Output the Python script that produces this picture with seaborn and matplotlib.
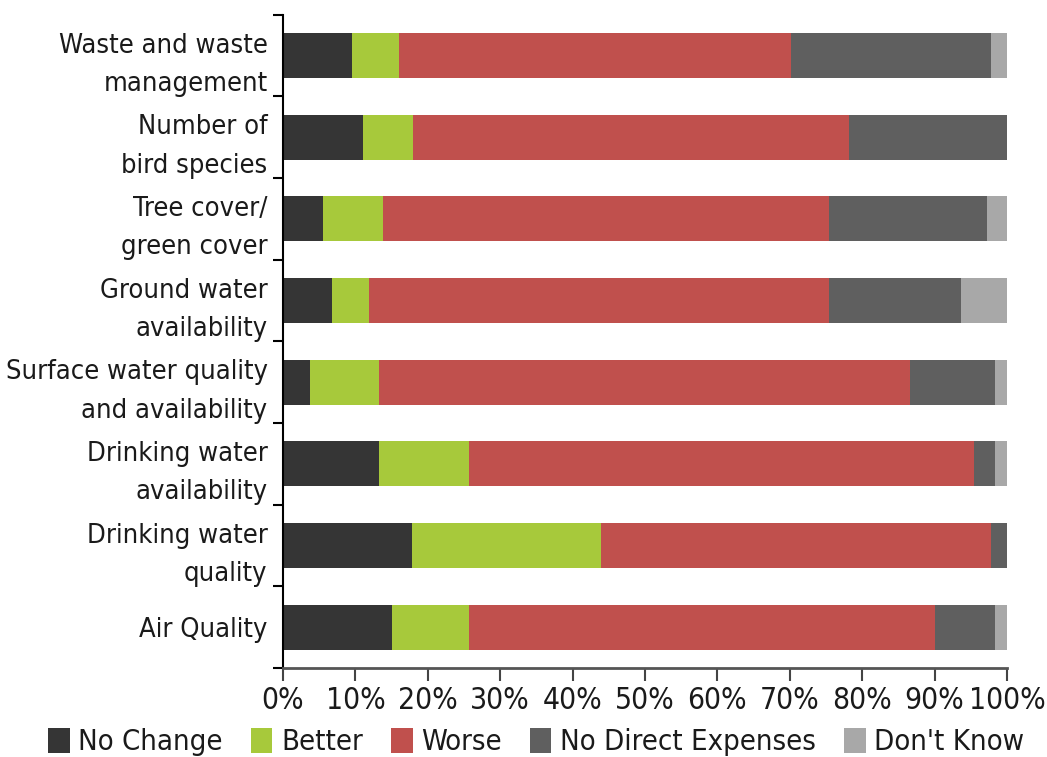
import matplotlib
matplotlib.use("Agg")
import matplotlib.pyplot as plt
from matplotlib.patches import Patch
import seaborn as sns
import pandas as pd
import numpy as np

categories = [
    "Waste and waste\nmanagement",
    "Number of\nbird species",
    "Tree cover/\ngreen cover",
    "Ground water\navailability",
    "Surface water quality\nand availability",
    "Drinking water\navailability",
    "Drinking water\nquality",
    "Air Quality",
]
no_change = [9.5, 11.1, 5.5, 6.7, 3.7, 13.3, 17.8, 15.0]
better = [6.5, 6.9, 8.3, 5.2, 9.6, 12.4, 26.1, 10.7]
worse = [54.1, 60.2, 61.6, 63.5, 73.3, 69.8, 53.9, 64.3]
no_direct = [27.7, 21.8, 21.9, 18.3, 11.7, 2.8, 2.2, 8.3]
dont_know = [2.2, 0.0, 2.7, 6.3, 1.7, 1.7, 0.0, 1.7]

series_names = ["No Change", "Better", "Worse", "No Direct Expenses", "Don't Know"]
series_vals = [no_change, better, worse, no_direct, dont_know]
colors = ["#353535", "#a7c93b", "#c0504d", "#5f5f5f", "#a8a8a8"]
xticks = list(range(0, 101, 10))
xtick_labels = [f"{t}%" for t in xticks]

sns.set_style("white")
plt.rcParams["font.family"] = ["DejaVu Sans"]
plt.rcParams["font.stretch"] = "condensed"
plt.rcParams["text.color"] = "#1a1a1a"
plt.rcParams["xtick.color"] = "#1a1a1a"
plt.rcParams["ytick.color"] = "#1a1a1a"

df = pd.DataFrame({"category": categories})
cum = np.cumsum(np.array(series_vals), axis=0)

fig = plt.figure(figsize=(10.47, 7.57), dpi=100)
ax = fig.add_axes([283 / 1047, 1 - 668 / 757, (1007 - 283) / 1047, (668 - 14.7) / 757])

# draw from rightmost cumulative to leftmost so segments stack visually
for i in range(len(series_names) - 1, -1, -1):
    d = df.copy()
    d["value"] = cum[i]
    sns.barplot(data=d, y="category", x="value", orient="y", color=colors[i],
                width=0.55, linewidth=0, saturation=1, ax=ax, errorbar=None)

ax.set_xlim(0, 100)
ax.set_ylim(7.5, -0.5)
ax.set_xlabel("")
ax.set_ylabel("")
ax.set_xticks(xticks)
ax.set_xticklabels(xtick_labels, fontsize=21.5)
ax.set_yticks(range(len(categories)))
ax.set_yticklabels(categories, fontsize=19.5, linespacing=1.62)
ax.set_yticks(np.arange(-0.5, 8.0, 1.0), minor=True)
ax.tick_params(axis="y", which="major", length=0, pad=11)
ax.tick_params(axis="y", which="minor", length=7, width=1.5, direction="out", left=True, color="black")
ax.tick_params(axis="x", which="major", length=9, width=1.5, direction="out", bottom=True, color="#444444", pad=4)
for s in ["top", "right"]:
    ax.spines[s].set_visible(False)
ax.spines["left"].set_color("black")
ax.spines["left"].set_linewidth(1.5)
ax.spines["bottom"].set_color("#555555")
ax.spines["bottom"].set_linewidth(2)

handles = [Patch(facecolor=c, edgecolor="none") for c in colors]
fig.legend(handles, series_names, loc="center", bbox_to_anchor=(0.512, 1 - 742 / 757),
           ncol=5, frameon=False, fontsize=21, handlelength=0.75, handleheight=0.95,
           handletextpad=0.3, columnspacing=0.95, borderaxespad=0)

fig.savefig("out.png", dpi=100)
